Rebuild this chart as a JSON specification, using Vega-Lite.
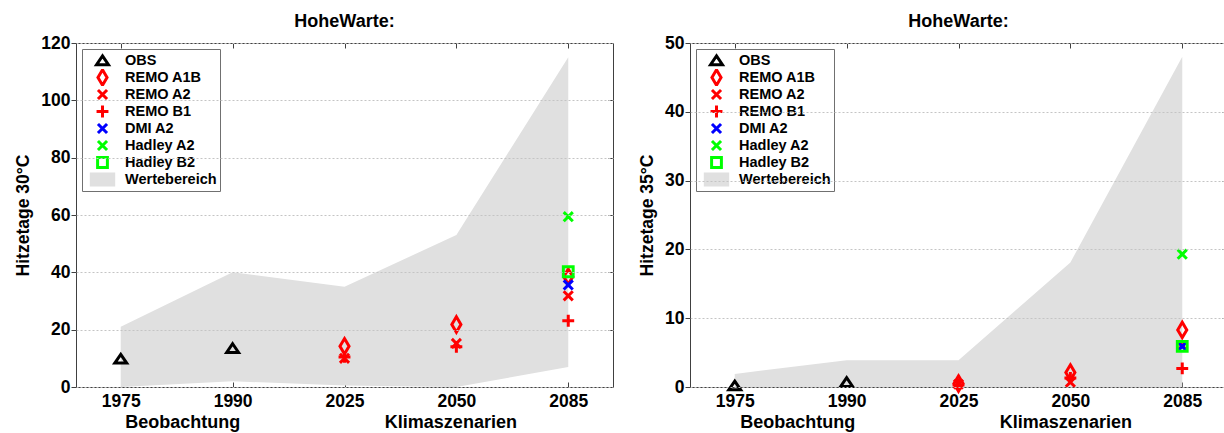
{
  "$schema": "https://vega.github.io/schema/vega-lite/v6.json",
  "padding": {"left": 14, "top": 12, "right": 0, "bottom": 0},
  "autosize": {"type": "pad"},
  "background": "white",
  "config": {
    "font": "Liberation Sans",
    "view": {"stroke": "#404040", "strokeWidth": 1},
    "title": {"fontSize": 18, "fontWeight": "bold", "color": "#000000", "offset": 3, "font": "Liberation Sans"},
    "axis": {
      "labelFont": "Liberation Sans", "titleFont": "Liberation Sans",
      "labelFontSize": 17.5, "labelFontWeight": "bold", "labelColor": "#000000",
      "titleFontSize": 17.5, "titleFontWeight": "bold", "titleColor": "#000000",
      "domain": false, "tickColor": "#404040", "tickWidth": 1, "grid": false
    },
    "legend": {
      "orient": "top-left", "offset": 6,
      "labelFont": "Liberation Sans", "labelFontSize": 14.5, "labelFontWeight": "bold", "labelColor": "#000000",
      "symbolSize": 196, "symbolStrokeWidth": 3, "symbolOffset": 9, "labelOffset": 14,
      "clipHeight": 17, "rowPadding": 0, "padding": 3, "strokeColor": "#707070", "fillColor": "#ffffff", "cornerRadius": 0
    }
  },
  "datasets": {
    "left_range": [
      {"year": "1975", "lo": 0, "hi": 21},
      {"year": "1990", "lo": 2, "hi": 40},
      {"year": "2025", "lo": 0.5, "hi": 35},
      {"year": "2050", "lo": 0, "hi": 53},
      {"year": "2085", "lo": 7, "hi": 115}
    ],
    "left_pts": [
      {"series": "OBS", "year": "1975", "value": 9.8},
      {"series": "OBS", "year": "1990", "value": 13.5},
      {"series": "REMO A1B", "year": "2025", "value": 14.2},
      {"series": "REMO A1B", "year": "2050", "value": 21.8},
      {"series": "REMO A1B", "year": "2085", "value": 38.5},
      {"series": "REMO A2", "year": "2025", "value": 10},
      {"series": "REMO A2", "year": "2050", "value": 15.2},
      {"series": "REMO A2", "year": "2085", "value": 31.8},
      {"series": "REMO B1", "year": "2025", "value": 10.5},
      {"series": "REMO B1", "year": "2050", "value": 14},
      {"series": "REMO B1", "year": "2085", "value": 23.1},
      {"series": "DMI A2", "year": "2085", "value": 35.6},
      {"series": "Hadley A2", "year": "2085", "value": 59.4},
      {"series": "Hadley B2", "year": "2085", "value": 40.2}
    ],
    "right_range": [
      {"year": "1975", "lo": 0, "hi": 1.9},
      {"year": "1990", "lo": 0, "hi": 3.9},
      {"year": "2025", "lo": 0, "hi": 3.9},
      {"year": "2050", "lo": 0, "hi": 18.1},
      {"year": "2085", "lo": 0, "hi": 48}
    ],
    "right_pts": [
      {"series": "OBS", "year": "1975", "value": 0.2},
      {"series": "OBS", "year": "1990", "value": 0.7},
      {"series": "REMO A1B", "year": "2025", "value": 0.5},
      {"series": "REMO A1B", "year": "2050", "value": 2.1},
      {"series": "REMO A1B", "year": "2085", "value": 8.3},
      {"series": "REMO A2", "year": "2025", "value": 0.4},
      {"series": "REMO A2", "year": "2050", "value": 0.7},
      {"series": "REMO A2", "year": "2085", "value": 6.0},
      {"series": "REMO B1", "year": "2025", "value": 0.3},
      {"series": "REMO B1", "year": "2050", "value": 1.3},
      {"series": "REMO B1", "year": "2085", "value": 2.7},
      {"series": "DMI A2", "year": "2085", "value": 5.9},
      {"series": "Hadley A2", "year": "2085", "value": 19.3},
      {"series": "Hadley B2", "year": "2085", "value": 5.9}
    ]
  },
  "spacing": 24,
  "hconcat": [
    {
      "width": 537, "height": 344,
      "title": {"text": "HoheWarte:"},
      "layer": [
        {
          "data": {"name": "left_range"},
          "mark": {"type": "area", "color": "#e0e0e0", "opacity": 1},
          "encoding": {
            "x": {"field": "year", "type": "ordinal", "scale": {"type": "point", "padding": 0.4},
                  "axis": {"labelAngle": 0, "tickSize": -5, "labelPadding": 10, "title": null}},
            "y": {"field": "lo", "type": "quantitative", "scale": {"domain": [0, 120], "nice": false},
                  "axis": {"values": [0, 20, 40, 60, 80, 100, 120], "tickSize": 5, "labelPadding": 1, "grid": true, "gridDash": [2, 2], "gridColor": "#c4c4c4", "title": "Hitzetage 30°C", "titlePadding": 8, "zindex": 1}},
            "y2": {"field": "hi"}
          }
        },
        {
          "data": {"name": "left_pts"},
          "transform": [{"filter": "datum.series != 'OBS'"}],
          "mark": {"type": "point", "filled": false, "strokeWidth": 3, "size": 196, "opacity": 1},
          "encoding": {
            "x": {"field": "year", "type": "ordinal",
                  "axis": {"orient": "bottom", "values": ["1975", "2050"], "labelExpr": "datum.value == '1975' ? 'Beobachtung' : 'Klimaszenarien'", "labelAlign": {"condition": {"test": "datum.value == '1975'", "value": "left"}, "value": "center"}, "labelOffset": {"condition": {"test": "datum.value == '1975'", "value": 4}, "value": -6}, "labelFontSize": 18, "ticks": false, "labelPadding": 26, "title": null, "labelAngle": 0}},
            "y": {"field": "value", "type": "quantitative", "scale": {"domain": [0, 120], "nice": false},
                  "axis": {"orient": "right", "values": [0, 20, 40, 60, 80, 100, 120], "labels": false, "tickSize": -5, "title": null}},
            "shape": {"field": "series", "type": "nominal", "legend": {"title": null},
                      "scale": {"domain": ["OBS", "REMO A1B", "REMO A2", "REMO B1", "DMI A2", "Hadley A2", "Hadley B2", "Wertebereich"],
                                "range": ["M0,-0.65L0.85,0.6L-0.85,0.6Z", "M0,-1.1L0.65,0L0,1.1L-0.65,0Z", "M-0.65,-0.65L0.65,0.65M0.65,-0.65L-0.65,0.65", "M-0.85,0L0.85,0M0,-0.85L0,0.85", "M-0.65,-0.65L0.65,0.65M0.65,-0.65L-0.65,0.65", "M-0.65,-0.65L0.65,0.65M0.65,-0.65L-0.65,0.65", "M-0.7,-0.7H0.7V0.7H-0.7Z", "M-1.6,-0.8H1.6V0.8H-1.6Z"]}},
            "stroke": {"field": "series", "type": "nominal", "legend": {"title": null},
                       "scale": {"domain": ["OBS", "REMO A1B", "REMO A2", "REMO B1", "DMI A2", "Hadley A2", "Hadley B2", "Wertebereich"],
                                 "range": ["#000000", "#ff0000", "#ff0000", "#ff0000", "#0000ff", "#00ff00", "#00ff00", "#e0e0e0"]}},
            "fill": {"field": "series", "type": "nominal", "legend": {"title": null},
                     "scale": {"domain": ["OBS", "REMO A1B", "REMO A2", "REMO B1", "DMI A2", "Hadley A2", "Hadley B2", "Wertebereich"],
                               "range": ["transparent", "transparent", "transparent", "transparent", "transparent", "transparent", "transparent", "#e0e0e0"]}}
          }
        },
        {
          "data": {"name": "left_pts"},
          "transform": [{"filter": "datum.series == 'OBS'"}],
          "mark": {"type": "point", "filled": false, "strokeWidth": 3, "size": 196, "opacity": 1},
          "encoding": {
            "x": {"field": "year", "type": "ordinal",
                  "axis": {"orient": "top", "labels": false, "tickSize": -5, "title": null}},
            "y": {"field": "value", "type": "quantitative", "scale": {"domain": [0, 120], "nice": false}, "axis": null},
            "shape": {"field": "series", "type": "nominal", "legend": {"title": null}},
            "stroke": {"field": "series", "type": "nominal", "legend": {"title": null}},
            "fill": {"field": "series", "type": "nominal", "legend": {"title": null}}
          }
        }
      ],
      "resolve": {"axis": {"x": "independent", "y": "independent"}}
    },
    {
      "width": 537, "height": 344,
      "title": {"text": "HoheWarte:"},
      "layer": [
        {
          "data": {"name": "right_range"},
          "mark": {"type": "area", "color": "#e0e0e0", "opacity": 1},
          "encoding": {
            "x": {"field": "year", "type": "ordinal", "scale": {"type": "point", "padding": 0.4},
                  "axis": {"labelAngle": 0, "tickSize": -5, "labelPadding": 10, "title": null}},
            "y": {"field": "lo", "type": "quantitative", "scale": {"domain": [0, 50], "nice": false},
                  "axis": {"values": [0, 10, 20, 30, 40, 50], "tickSize": 5, "labelPadding": 1, "grid": true, "gridDash": [2, 2], "gridColor": "#c4c4c4", "title": "Hitzetage 35°C", "titlePadding": 8, "zindex": 1}},
            "y2": {"field": "hi"}
          }
        },
        {
          "data": {"name": "right_pts"},
          "transform": [{"filter": "datum.series != 'OBS'"}],
          "mark": {"type": "point", "filled": false, "strokeWidth": 3, "size": 196, "opacity": 1},
          "encoding": {
            "x": {"field": "year", "type": "ordinal",
                  "axis": {"orient": "bottom", "values": ["1975", "2050"], "labelExpr": "datum.value == '1975' ? 'Beobachtung' : 'Klimaszenarien'", "labelAlign": {"condition": {"test": "datum.value == '1975'", "value": "left"}, "value": "center"}, "labelOffset": {"condition": {"test": "datum.value == '1975'", "value": 5}, "value": -5}, "labelFontSize": 18, "ticks": false, "labelPadding": 26, "title": null, "labelAngle": 0}},
            "y": {"field": "value", "type": "quantitative", "scale": {"domain": [0, 50], "nice": false},
                  "axis": {"orient": "right", "values": [0, 10, 20, 30, 40, 50], "labels": false, "tickSize": -5, "title": null}},
            "shape": {"field": "series", "type": "nominal", "legend": {"title": null},
                      "scale": {"domain": ["OBS", "REMO A1B", "REMO A2", "REMO B1", "DMI A2", "Hadley A2", "Hadley B2", "Wertebereich"],
                                "range": ["M0,-0.65L0.85,0.6L-0.85,0.6Z", "M0,-1.1L0.65,0L0,1.1L-0.65,0Z", "M-0.65,-0.65L0.65,0.65M0.65,-0.65L-0.65,0.65", "M-0.85,0L0.85,0M0,-0.85L0,0.85", "M-0.65,-0.65L0.65,0.65M0.65,-0.65L-0.65,0.65", "M-0.65,-0.65L0.65,0.65M0.65,-0.65L-0.65,0.65", "M-0.7,-0.7H0.7V0.7H-0.7Z", "M-1.6,-0.8H1.6V0.8H-1.6Z"]}},
            "stroke": {"field": "series", "type": "nominal", "legend": {"title": null},
                       "scale": {"domain": ["OBS", "REMO A1B", "REMO A2", "REMO B1", "DMI A2", "Hadley A2", "Hadley B2", "Wertebereich"],
                                 "range": ["#000000", "#ff0000", "#ff0000", "#ff0000", "#0000ff", "#00ff00", "#00ff00", "#e0e0e0"]}},
            "fill": {"field": "series", "type": "nominal", "legend": {"title": null},
                     "scale": {"domain": ["OBS", "REMO A1B", "REMO A2", "REMO B1", "DMI A2", "Hadley A2", "Hadley B2", "Wertebereich"],
                               "range": ["transparent", "transparent", "transparent", "transparent", "transparent", "transparent", "transparent", "#e0e0e0"]}}
          }
        },
        {
          "data": {"name": "right_pts"},
          "transform": [{"filter": "datum.series == 'OBS'"}],
          "mark": {"type": "point", "filled": false, "strokeWidth": 3, "size": 196, "opacity": 1},
          "encoding": {
            "x": {"field": "year", "type": "ordinal",
                  "axis": {"orient": "top", "labels": false, "tickSize": -5, "title": null}},
            "y": {"field": "value", "type": "quantitative", "scale": {"domain": [0, 50], "nice": false}, "axis": null},
            "shape": {"field": "series", "type": "nominal", "legend": {"title": null}},
            "stroke": {"field": "series", "type": "nominal", "legend": {"title": null}},
            "fill": {"field": "series", "type": "nominal", "legend": {"title": null}}
          }
        }
      ],
      "resolve": {"axis": {"x": "independent", "y": "independent"}}
    }
  ],
  "resolve": {
    "scale": {"shape": "independent", "stroke": "independent", "fill": "independent"},
    "legend": {"shape": "independent", "stroke": "independent", "fill": "independent"}
  }
}
